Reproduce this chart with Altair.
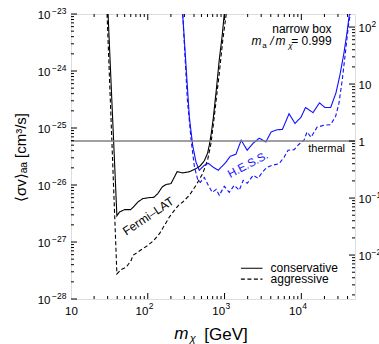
import altair as alt
import pandas as pd

THERMAL = 5.9e-26  # <sigma v> thermal reference (right axis = ratio to this)

# ---------------- data ----------------
fermi_cons_m = [30.4, 39.6, 42.9, 49.8, 59.6, 63.8, 74.1, 86.1, 105, 120, 135, 154, 173, 201,
                241, 285, 348, 425, 483, 545, 601, 633, 672, 713, 780, 853, 933, 991]
fermi_cons_sv = [1e-23, 2.88e-27, 3.36e-27, 3.70e-27, 3.70e-27, 4.01e-27, 5.02e-27, 5.77e-27,
                 6.01e-27, 6.08e-27, 7.06e-27, 9.23e-27, 1.02e-26, 1.06e-26, 1.71e-26, 1.63e-26,
                 1.71e-26, 1.94e-26, 2.17e-26, 2.66e-26, 3.61e-26, 4.99e-26, 8.11e-26, 1.49e-25,
                 4.61e-25, 1.56e-24, 4.27e-24, 1e-23]

fermi_aggr_m = [29.5, 39.6, 45.2, 52.4, 60.8, 63.8, 74.1, 86.1, 100, 120, 142, 165, 191, 222,
                251, 285, 348, 425, 518, 601, 665, 734, 853, 948, 1052]
fermi_aggr_sv = [1e-23, 2.75e-28, 3.30e-28, 3.62e-28, 4.75e-28, 5.81e-28, 6.64e-28, 7.62e-28,
                 8.71e-28, 1.07e-27, 1.40e-27, 1.96e-27, 2.74e-27, 3.59e-27, 4.40e-27, 5.02e-27,
                 6.59e-27, 9.89e-27, 1.58e-26, 2.72e-26, 5.35e-26, 1.57e-25, 9.08e-25, 3.49e-24,
                 1e-23]

hess_cons_m = [285, 315, 348, 384, 425, 469, 545, 614, 713, 828, 1042, 1186, 1406, 1648, 1972,
               2360, 2825, 3451, 4040, 4833, 5663, 6918, 8279, 9908, 11350, 14190, 17220, 20300,
               24100, 28200, 31800, 35900, 39600, 42300]
hess_cons_sv = [1e-23, 1.22e-24, 1.55e-25, 4.99e-26, 2.51e-26, 1.81e-26, 2.22e-26, 2.40e-26,
                2.05e-26, 1.81e-26, 2.51e-26, 3.19e-26, 3.47e-26, 6.11e-26, 4.07e-26, 5.41e-26,
                6.62e-26, 5.70e-26, 8.53e-26, 9.33e-26, 9.41e-26, 1.78e-25, 1.20e-25, 1.55e-25,
                2.29e-25, 1.86e-25, 2.76e-25, 2.29e-25, 2.29e-25, 4.09e-25, 8.47e-25, 2.07e-24,
                5.02e-24, 1e-23]

hess_aggr_m = [285, 328, 367, 404, 449, 483, 545, 614, 692, 780, 853, 991, 1151, 1337, 1552,
               1750, 1972, 2360, 2742, 3090, 3590, 4160, 5130, 5960, 6710, 8030, 9330, 10840,
               11860, 13370, 16000, 19720, 24100, 28000, 30900, 34100, 37700, 41600, 43600]
hess_aggr_sv = [1e-23, 3.08e-25, 6.11e-26, 2.13e-26, 1.21e-26, 1.11e-26, 1.36e-26, 9.89e-27,
                7.45e-27, 8.40e-27, 6.59e-27, 9.48e-27, 7.45e-27, 9.89e-27, 8.07e-27, 1.21e-26,
                1.07e-26, 1.48e-26, 1.31e-26, 1.67e-26, 2.05e-26, 2.22e-26, 2.36e-26, 3.07e-26,
                4.07e-26, 4.16e-26, 5.19e-26, 6.11e-26, 8.53e-26, 6.89e-26, 1.03e-25, 1.12e-25,
                1.14e-25, 1.61e-25, 2.73e-25, 6.92e-25, 2.24e-24, 7.23e-24, 1e-23]

styles = ["conservative", "aggressive"]
series = [
    ("Fermi-LAT", "conservative", fermi_cons_m, fermi_cons_sv),
    ("Fermi-LAT", "aggressive", fermi_aggr_m, fermi_aggr_sv),
    ("H.E.S.S.", "conservative", hess_cons_m, hess_cons_sv),
    ("H.E.S.S.", "aggressive", hess_aggr_m, hess_aggr_sv),
]
rows = []
for exp, style, ms, svs in series:
    for m, sv in zip(ms, svs):
        rows.append({"m": m, "sv": sv, "exp": exp, "style": style, "series": exp + " " + style})
df = pd.DataFrame(rows)

# tick values (axis decoration)
x_major = [1e2, 1e3, 1e4]
x_minor = [k * 10 ** d for d in range(1, 5) for k in range(2, 10) if k * 10 ** d < 5e4]
y_major = [10.0 ** e for e in range(-28, -22)]
y_minor = [k * 10.0 ** e for e in range(-28, -23) for k in range(2, 10)]
r_major = [THERMAL * 10.0 ** e for e in range(-2, 3)]
r_minor = [THERMAL * k * 10.0 ** e for e in range(-3, 3) for k in range(2, 10)
           if 1e-28 < THERMAL * k * 10.0 ** e < 1e-23]

W, H = 284, 285
FONT = "Liberation Sans"
BLUE = "#1010ff"
DASHES = [[1, 0], [4, 2.5]]
xs = alt.Scale(type="log", domain=[10, 5e4], nice=False)
ys = alt.Scale(type="log", domain=[1e-28, 1e-23], nice=False)

T = repr(THERMAL)
common_axis = dict(grid=False, ticks=False, domain=False, labelFont=FONT, labelColor="black",
                   labelFlush=False, labelOverlap=False)

ax_bottom_A = alt.Axis(orient="bottom", values=[10, 100, 1000, 10000], labelExpr="'10'",
                       labelFontSize=11.5,
                       labelAlign={"condition": {"test": "datum.value < 50", "value": "center"},
                                   "value": "right"},
                       labelBaseline="top", labelPadding=6, title=None, **common_axis)
ax_bottom_B = alt.Axis(orient="bottom", values=x_major,
                       labelExpr="format(round(log(datum.value)/LN10), 'd')",
                       labelFontSize=8.5, labelAlign="left", labelBaseline="top", labelPadding=2,
                       labelOffset=0.5, title=None, **common_axis)
ax_left_A = alt.Axis(orient="left", values=y_major, labelExpr="'10'", labelFontSize=11.5,
                     labelAlign="right", labelBaseline="middle", labelPadding=21, labelOffset=1,
                     title="⟨σv⟩ₐₐ [cm³/s]", titleFont=FONT, titleFontSize=15,
                     titleFontWeight="normal", titleX=-51, titleY=143, titleAngle=-90,
                     titleAlign="center", titleBaseline="middle", titleColor="black", **common_axis)
ax_left_B = alt.Axis(orient="left", values=y_major,
                     labelExpr="'−' + format(-round(log(datum.value)/LN10), 'd')",
                     labelFontSize=8.5, labelAlign="right", labelBaseline="middle",
                     labelPadding=5, labelOffset=-4, title=None, **common_axis)
ax_right_A = alt.Axis(orient="right", values=r_major,
                      labelExpr=f"round(log(datum.value/{T})/LN10) == 0 ? '1' : '10'",
                      labelFontSize=11.5, labelAlign="left", labelBaseline="middle",
                      labelPadding=3, labelOffset=1, title=None, **common_axis)
ax_right_B = alt.Axis(orient="right", values=r_major,
                      labelExpr=(f"round(log(datum.value/{T})/LN10) >= 2 ? "
                                 f"format(round(log(datum.value/{T})/LN10), 'd') : "
                                 f"(round(log(datum.value/{T})/LN10) < 0 ? "
                                 f"'−' + format(-round(log(datum.value/{T})/LN10), 'd') : '')"),
                      labelFontSize=8.5, labelAlign="left", labelBaseline="middle",
                      labelPadding=16, labelOffset=-4, title=None, **common_axis)

lines = alt.Chart(df).mark_line(clip=True, strokeWidth=1.1).encode(
    x=alt.X("m:Q", scale=xs, axis=ax_bottom_A),
    y=alt.Y("sv:Q", scale=ys, axis=ax_left_A),
    color=alt.Color("exp:N", scale=alt.Scale(domain=["Fermi-LAT", "H.E.S.S."],
                                             range=["black", BLUE]), legend=None),
    strokeDash=alt.StrokeDash("style:N", scale=alt.Scale(domain=styles, range=DASHES),
                              legend=None),
    detail="series:N",
)

def tick_layer(vals, chan, scale, axis, pos, pos2):
    d = pd.DataFrame({"v": vals})
    c = alt.Chart(d).mark_rule(color="black", strokeWidth=1)
    if chan == "x":
        return c.encode(x=alt.X("v:Q", scale=scale, axis=axis), y=alt.value(pos), y2=alt.value(pos2))
    return c.encode(y=alt.Y("v:Q", scale=scale, axis=axis), x=alt.value(pos), x2=alt.value(pos2))

ticks = [
    tick_layer(x_major, "x", xs, ax_bottom_B, H, H - 6),
    tick_layer(x_minor, "x", xs, None, H, H - 3),
    tick_layer(x_major, "x", xs, None, 0, 6),
    tick_layer(x_minor, "x", xs, None, 0, 3),
    tick_layer(y_major, "y", ys, ax_left_B, 0, 6),
    tick_layer(y_minor, "y", ys, None, 0, 3),
    tick_layer(r_major, "y", ys, ax_right_A, W, W - 6),
    tick_layer(r_minor, "y", ys, ax_right_B, W, W - 3),
]

thermal = alt.Chart(pd.DataFrame({"v": [THERMAL]})).mark_rule(color="#808080", strokeWidth=1.5).encode(
    y=alt.Y("v:Q", scale=ys, axis=None))

def label(m, sv, text, **kw):
    d = pd.DataFrame({"m": [m], "sv": [sv], "t": [text]})
    props = dict(font=FONT, fontSize=12, color="black")
    props.update(kw)
    return alt.Chart(d).mark_text(**props).encode(
        x=alt.X("m:Q", scale=xs, axis=None), y=alt.Y("sv:Q", scale=ys, axis=None), text="t:N")

# legend (line style key), anchored in data coordinates
LEG_M0, LEG_M1, LEG_TEXT_M = 1633, 3118, 3970
LEG_SV = [3.47e-28, 2.23e-28]
legend_layers = []
for style, dash, sv in zip(styles, DASHES, LEG_SV):
    d = pd.DataFrame({"m0": [LEG_M0], "m1": [LEG_M1], "sv": [sv]})
    legend_layers.append(alt.Chart(d).mark_rule(color="black", strokeWidth=1.1, strokeDash=dash).encode(
        x=alt.X("m0:Q", scale=xs, axis=None), x2="m1:Q", y=alt.Y("sv:Q", scale=ys, axis=None)))
    legend_layers.append(label(LEG_TEXT_M, sv, style, align="left", baseline="middle"))

RATIO_AT = (24800, 2.91e-24)
XTITLE_SV = 1e-28
texts = [
    label(37000, THERMAL, "thermal", fontSize=11, align="right", baseline="top", dy=2),
    label(24800, 4.63e-24, "narrow box", align="right", baseline="alphabetic"),
    label(*RATIO_AT, "= 0.999", align="right", baseline="alphabetic"),
    label(*RATIO_AT, "χ", fontSize=8, fontStyle="italic", align="right", baseline="alphabetic", dx=-39, dy=3),
    label(*RATIO_AT, "m", fontStyle="italic", align="right", baseline="alphabetic", dx=-46),
    label(*RATIO_AT, "/", fontStyle="italic", align="right", baseline="alphabetic", dx=-58),
    label(*RATIO_AT, "a", fontSize=8, align="right", baseline="alphabetic", dx=-65, dy=3),
    label(*RATIO_AT, "m", fontStyle="italic", align="right", baseline="alphabetic", dx=-70),
    label(101.4, 2.84e-27, "Fermi–LAT", align="center", baseline="middle", angle=326),
    label(2032, 2.22e-26, "H.E.S.S.", fontSize=11.5, align="center", baseline="middle",
          angle=332, color=BLUE),
    # x-axis title: italic m, subscript chi, [GeV]
    label(274, XTITLE_SV, "m", fontSize=17, fontStyle="italic", align="center",
          baseline="alphabetic", dy=40),
    label(386, XTITLE_SV, "χ", fontSize=11, fontStyle="italic", align="center",
          baseline="alphabetic", dy=43),
    label(545, XTITLE_SV, "[GeV]", fontSize=17, align="left", baseline="alphabetic", dy=41),
]

chart = alt.layer(lines, thermal, *ticks, *legend_layers, *texts).resolve_axis(
    x="independent", y="independent"
).properties(
    width=W, height=H,
    autosize=alt.AutoSizeParams(type="none"),
    padding={"left": 71, "top": 14, "right": 24, "bottom": 45},
).configure_view(stroke="black", strokeWidth=1.2).configure(font=FONT)

chart.save("out.html", embed_options={"renderer": "svg", "actions": False})
